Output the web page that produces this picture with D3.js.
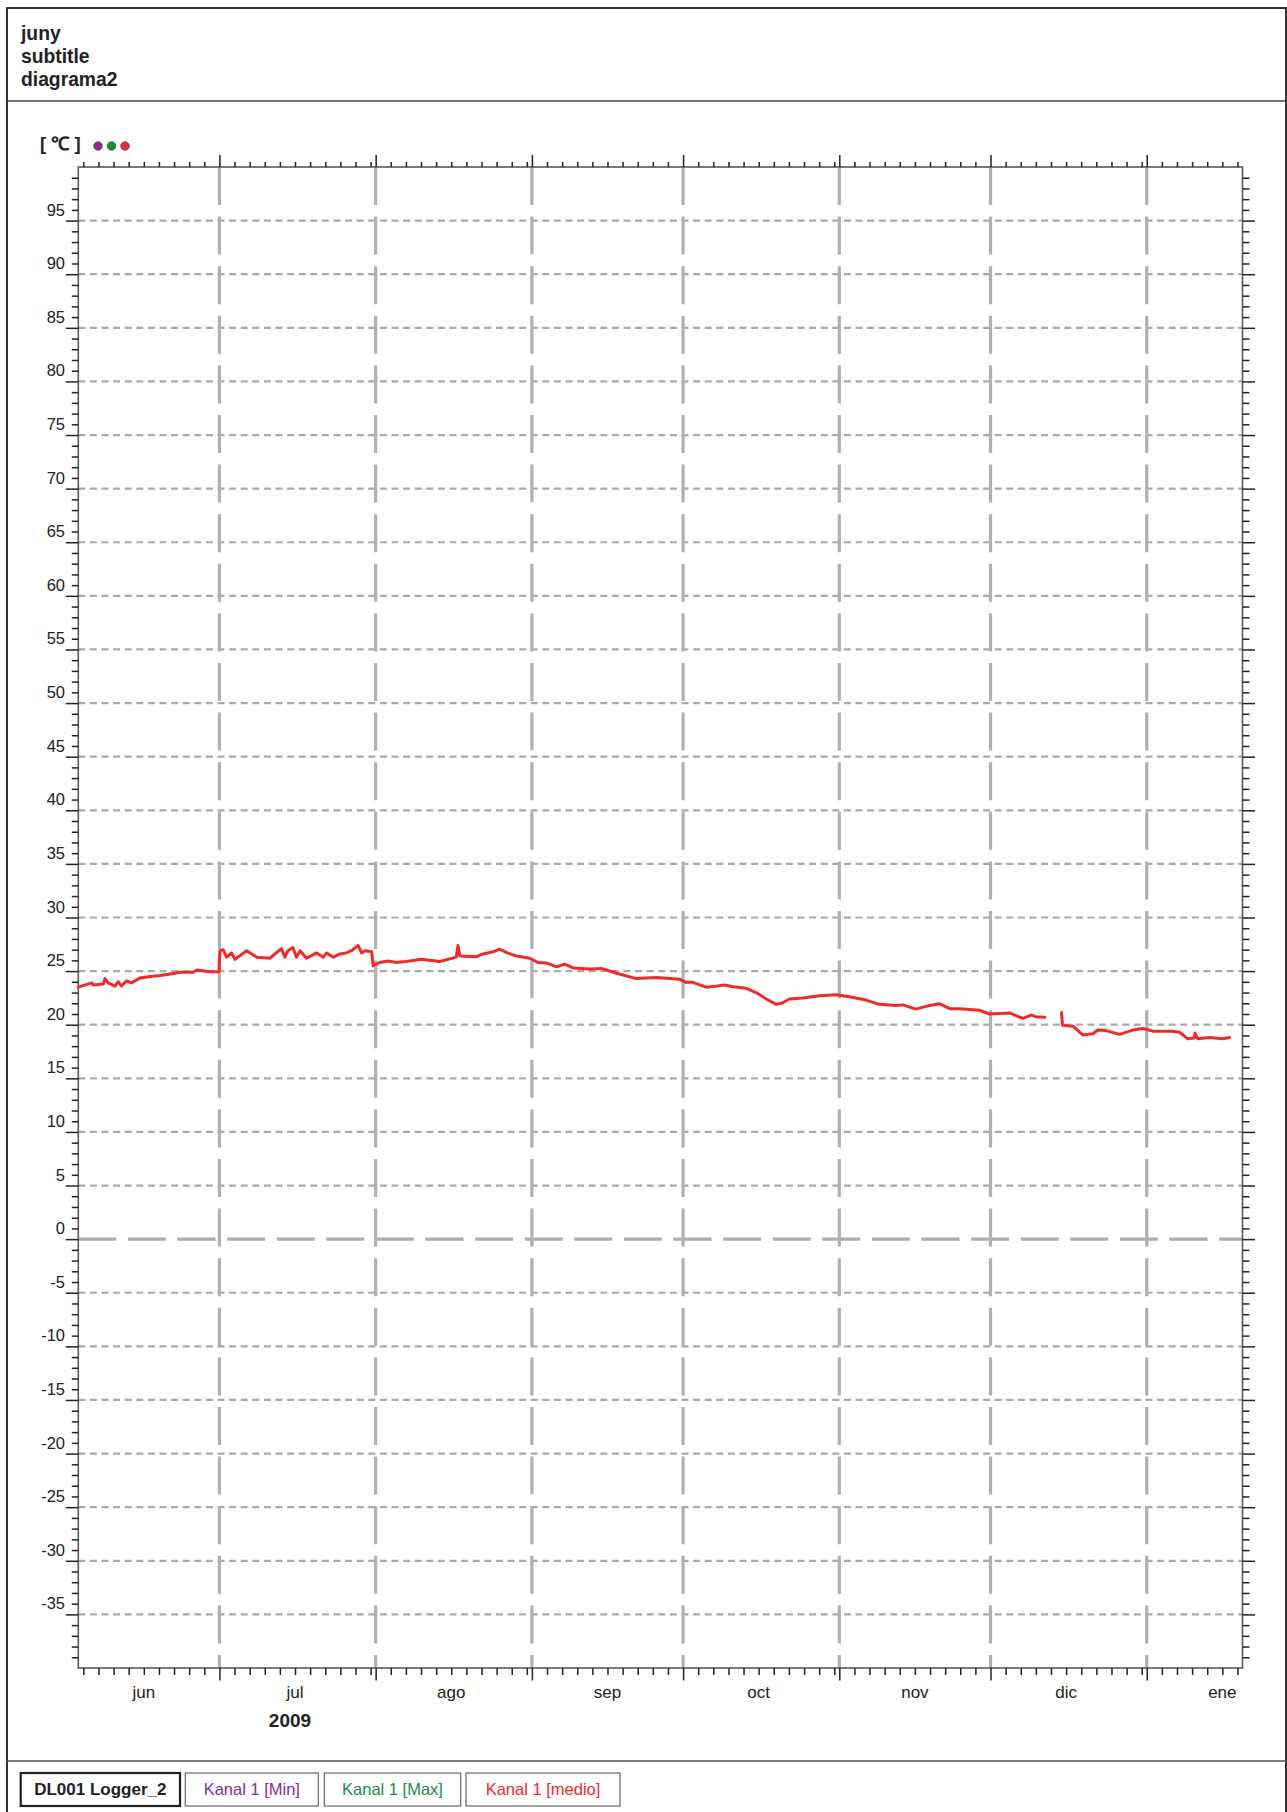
<!DOCTYPE html>
<html>
<head>
<meta charset="utf-8">
<script src="https://cdn.jsdelivr.net/npm/d3@7"></script>
<style>
  html, body { margin: 0; padding: 0; background: #fff; }
  svg { display: block; }
  text { font-family: "Liberation Sans", Arial, Helvetica, sans-serif; }
</style>
</head>
<body>
<svg id="chart" width="1287" height="1812"></svg>
<script>
// ---------------- DATA ----------------
const titleLines = ["juny", "subtitle", "diagrama2"];
const unitLabel = "[ \u2103 ]";
const yearLabel = "2009";
const monthNames = ["jun", "jul", "ago", "sep", "oct", "nov", "dic", "ene"];
const legendLabels = ["DL001 Logger_2", "Kanal 1 [Min]", "Kanal 1 [Max]", "Kanal 1 [medio]"];
const seriesColors = ["#8a2c9a", "#1d8a3e", "#ee2a2a"];
const yDomain = [-40, 100];
const timeDomain = ["2009-06-03 00", "2010-01-20 00"];

// Kanal 1 [medio] readings (null = gap in the record)
const medioDates = [
  "2009-06-03 00","2009-06-05 16","2009-06-05 23","2009-06-08 00","2009-06-08 07","2009-06-08 23",
  "2009-06-10 07","2009-06-10 22","2009-06-11 14","2009-06-12 14","2009-06-13 14","2009-06-15 05",
  "2009-06-17 05","2009-06-19 05","2009-06-22 05","2009-06-23 05","2009-06-25 19","2009-06-26 12",
  "2009-06-29 02","2009-06-30 22","2009-07-01 02","2009-07-01 18","2009-07-02 10","2009-07-03 10",
  "2009-07-04 02","2009-07-06 10","2009-07-08 10","2009-07-11 00","2009-07-13 07","2009-07-14 00",
  "2009-07-14 14","2009-07-15 14","2009-07-16 07","2009-07-17 00","2009-07-18 07","2009-07-20 07",
  "2009-07-21 14","2009-07-22 07","2009-07-23 14","2009-07-24 22","2009-07-26 05","2009-07-27 05",
  "2009-07-28 12","2009-07-29 05","2009-07-29 22","2009-07-31 05","2009-07-31 12","2009-08-01 19",
  "2009-08-03 12","2009-08-05 02","2009-08-07 02","2009-08-10 02","2009-08-13 17","2009-08-17 00",
  "2009-08-17 08","2009-08-17 17","2009-08-21 00","2009-08-22 07","2009-08-24 07","2009-08-25 14",
  "2009-08-26 22","2009-08-28 22","2009-08-31 14","2009-09-02 05","2009-09-03 22","2009-09-05 22",
  "2009-09-07 12","2009-09-09 05","2009-09-12 12","2009-09-14 19","2009-09-17 19","2009-09-21 17",
  "2009-09-25 17","2009-09-30 07","2009-10-01 14","2009-10-02 22","2009-10-05 14","2009-10-07 14",
  "2009-10-09 05","2009-10-10 22","2009-10-13 12","2009-10-15 12","2009-10-17 12","2009-10-19 12",
  "2009-10-20 19","2009-10-22 02","2009-10-24 19","2009-10-28 02","2009-10-31 10","2009-11-03 00",
  "2009-11-06 07","2009-11-08 22","2009-11-12 07","2009-11-13 14","2009-11-16 05","2009-11-18 22",
  "2009-11-20 22","2009-11-22 22","2009-11-24 22","2009-11-27 12","2009-11-28 19","2009-11-30 19",
  "2009-12-04 19","2009-12-07 10","2009-12-09 02","2009-12-10 00","2009-12-11 19","2009-12-13 12",
  "2009-12-15 02","2009-12-15 07","2009-12-17 10","2009-12-19 07","2009-12-21 07","2009-12-22 07",
  "2009-12-23 22","2009-12-26 14","2009-12-29 05","2009-12-31 05","2010-01-02 05","2010-01-06 02",
  "2010-01-07 12","2010-01-09 02","2010-01-10 10","2010-01-10 14","2010-01-11 02","2010-01-13 10",
  "2010-01-16 02","2010-01-17 10"
];
const medioValues = [
  23.5,23.9,23.7,23.8,24.3,23.9,
  23.6,24.0,23.6,24.1,23.9,24.35,
  24.5,24.6,24.8,24.9,24.9,25.1,
  24.95,24.95,26.9,27.0,26.3,26.7,
  26.1,26.9,26.3,26.2,27.1,26.3,
  26.9,27.2,26.3,26.9,26.2,26.7,
  26.3,26.7,26.3,26.6,26.7,26.9,
  27.4,26.7,26.9,26.8,25.5,25.8,
  25.95,25.8,25.9,26.1,25.9,26.3,
  27.4,26.4,26.35,26.6,26.8,27.05,
  26.75,26.4,26.2,25.8,25.75,25.4,
  25.65,25.3,25.2,25.25,24.8,24.3,
  24.4,24.25,23.95,23.95,23.5,23.6,
  23.7,23.55,23.4,23.0,22.4,21.9,
  22.05,22.4,22.5,22.7,22.8,22.6,
  22.3,21.9,21.8,21.85,21.45,21.8,
  21.95,21.5,21.5,21.4,21.35,21.0,
  21.1,20.6,20.9,20.75,20.7,null,
  21.15,19.95,19.85,19.05,19.15,19.5,
  19.45,19.1,19.5,19.65,19.4,19.4,
  19.3,18.7,18.75,19.2,18.7,18.8,
  18.7,18.8
];

// ---------------- CHART ----------------
const svg = d3.select("#chart");
const parse = d3.timeParse("%Y-%m-%d %H");

const plot = { left: 78.3, right: 1242.5, top: 167, bottom: 1668 };

const x = d3.scaleTime()
  .domain(timeDomain.map(parse))
  .range([plot.left, plot.right]);
const y = d3.scaleLinear()
  .domain(yDomain)
  .range([plot.bottom, plot.top]);

const data = medioDates.map((d, i) => ({ t: parse(d), v: medioValues[i] }));

// outer frame & separators
svg.append("rect").attr("x", 7).attr("y", 8).attr("width", 1279).attr("height", 1840)
  .attr("fill", "none").attr("stroke", "#333").attr("stroke-width", 2);
svg.append("line").attr("x1", 7).attr("x2", 1286).attr("y1", 101).attr("y2", 101)
  .attr("stroke", "#444").attr("stroke-width", 1.6);
svg.append("line").attr("x1", 7).attr("x2", 1286).attr("y1", 1761).attr("y2", 1761)
  .attr("stroke", "#555").attr("stroke-width", 1.4);

// titles
svg.selectAll("text.title").data(titleLines).join("text")
  .attr("class", "title")
  .attr("x", 21).attr("y", (d, i) => 39.5 + i * 23)
  .attr("font-size", 19.3).attr("font-weight", "bold").attr("fill", "#222")
  .text(d => d);

// unit label and series dots
svg.append("text").attr("x", 40).attr("y", 149.5)
  .attr("font-size", 18.5).attr("font-weight", "bold").attr("fill", "#222")
  .text(unitLabel);
svg.selectAll("circle.dot").data(seriesColors).join("circle")
  .attr("class", "dot")
  .attr("cx", (d, i) => 98 + i * 13.5).attr("cy", 146).attr("r", 4.3)
  .attr("fill", d => d).attr("stroke", "#333").attr("stroke-width", 0.6);

// horizontal grid lines
const gridVals = d3.range(-35, 96, 5).filter(v => v !== 0);
svg.append("g").selectAll("line").data(gridVals).join("line")
  .attr("x1", plot.left).attr("x2", plot.right)
  .attr("y1", d => y(d)).attr("y2", d => y(d))
  .attr("stroke", "#a9a9a9").attr("stroke-width", 2.2)
  .attr("stroke-dasharray", "7,4.6");
// zero line
svg.append("line")
  .attr("x1", plot.left).attr("x2", plot.right)
  .attr("y1", y(0)).attr("y2", y(0))
  .attr("stroke", "#adadad").attr("stroke-width", 3.2)
  .attr("stroke-dasharray", "38,11.6");

// vertical month grid lines
const start = x.domain()[0], end = x.domain()[1];
const monthStarts = d3.timeMonth.range(d3.timeMonth.ceil(start), end);
svg.append("g").selectAll("line").data(monthStarts).join("line")
  .attr("x1", d => x(d)).attr("x2", d => x(d))
  .attr("y1", plot.top).attr("y2", plot.bottom)
  .attr("stroke", "#b0b0b0").attr("stroke-width", 3.2)
  .attr("stroke-dasharray", "38,11.6");

// plot frame
svg.append("rect")
  .attr("x", plot.left).attr("y", plot.top)
  .attr("width", plot.right - plot.left).attr("height", plot.bottom - plot.top)
  .attr("fill", "none").attr("stroke", "#5a5a5a").attr("stroke-width", 1.6);

// time ticks
const minorDays = d3.timeDay.every(3).range(start, end)
  .filter(d => d.getDate() !== 1);
function styleAxis(g) {
  g.select(".domain").remove();
  g.selectAll(".tick line").attr("stroke", "#222").attr("stroke-width", 1.5);
  g.selectAll(".tick text").remove();
}
svg.append("g").attr("transform", `translate(0,${plot.top})`)
  .call(d3.axisTop(x).tickValues(minorDays).tickSize(5).tickFormat(""))
  .call(styleAxis);
svg.append("g").attr("transform", `translate(0,${plot.top})`)
  .call(d3.axisTop(x).tickValues(monthStarts).tickSize(12).tickFormat(""))
  .call(styleAxis);
svg.append("g").attr("transform", `translate(0,${plot.bottom})`)
  .call(d3.axisBottom(x).tickValues(minorDays).tickSize(7).tickFormat(""))
  .call(styleAxis);
svg.append("g").attr("transform", `translate(0,${plot.bottom})`)
  .call(d3.axisBottom(x).tickValues(monthStarts).tickSize(12.5).tickFormat(""))
  .call(styleAxis);

// value ticks
const minorVals = d3.range(yDomain[0] + 1, yDomain[1], 1).filter(v => v % 5 !== 0);
const majorVals = d3.range(-35, 96, 5);
svg.append("g").attr("transform", `translate(${plot.left},0)`)
  .call(d3.axisLeft(y).tickValues(minorVals).tickSize(6.5).tickFormat(""))
  .call(styleAxis);
svg.append("g").attr("transform", `translate(${plot.left},0)`)
  .call(d3.axisLeft(y).tickValues(majorVals).tickSize(12.5).tickFormat(""))
  .call(styleAxis);
svg.append("g").attr("transform", `translate(${plot.right},0)`)
  .call(d3.axisRight(y).tickValues(minorVals).tickSize(7).tickFormat(""))
  .call(styleAxis);
svg.append("g").attr("transform", `translate(${plot.right},0)`)
  .call(d3.axisRight(y).tickValues(majorVals).tickSize(12.5).tickFormat(""))
  .call(styleAxis);

// value labels (sit just above their grid line)
svg.append("g").selectAll("text").data(majorVals).join("text")
  .attr("x", 65).attr("y", d => y(d) - 5)
  .attr("text-anchor", "end").attr("font-size", 16.5).attr("fill", "#222")
  .text(d => d);

// month labels, centred mid-month
const labelMonths = d3.timeMonth.range(d3.timeMonth.floor(start), end);
svg.append("g").selectAll("text").data(labelMonths).join("text")
  .attr("x", d => x(d3.timeDay.offset(d, 15)))
  .attr("y", 1697.5)
  .attr("text-anchor", "middle").attr("font-size", 17).attr("fill", "#222")
  .text((d, i) => monthNames[i]);
svg.append("text")
  .attr("x", x(new Date(2009, 6, 15))).attr("y", 1726.5)
  .attr("text-anchor", "middle").attr("font-size", 19).attr("font-weight", "bold").attr("fill", "#222")
  .text(yearLabel);

// data line
const line = d3.line()
  .defined(d => d.v != null)
  .x(d => x(d.t)).y(d => y(d.v));
svg.append("path").datum(data)
  .attr("d", line)
  .attr("fill", "none").attr("stroke", "#ee2a2a").attr("stroke-width", 3)
  .attr("stroke-linejoin", "round").attr("stroke-linecap", "round");

// legend boxes
const legendBoxes = [
  { x0: 20.7, x1: 180, color: "#222", bold: true, sw: 2.2, stroke: "#222" },
  { x0: 185.3, x1: 318.3, color: seriesColors[0], bold: false, sw: 1.2, stroke: "#666" },
  { x0: 324.3, x1: 460.7, color: seriesColors[1], bold: false, sw: 1.2, stroke: "#666" },
  { x0: 466, x1: 620, color: seriesColors[2], bold: false, sw: 1.2, stroke: "#666" }
];
const lg = svg.append("g");
legendBoxes.forEach((b, i) => {
  lg.append("rect").attr("x", b.x0).attr("y", 1773).attr("width", b.x1 - b.x0).attr("height", 33)
    .attr("fill", "#fff").attr("stroke", b.stroke).attr("stroke-width", b.sw);
  lg.append("text").attr("x", (b.x0 + b.x1) / 2).attr("y", 1795)
    .attr("text-anchor", "middle")
    .attr("font-size", b.bold ? 17 : 16.5)
    .attr("font-weight", b.bold ? "bold" : "normal")
    .attr("fill", b.color)
    .text(legendLabels[i]);
});
</script>
</body>
</html>
